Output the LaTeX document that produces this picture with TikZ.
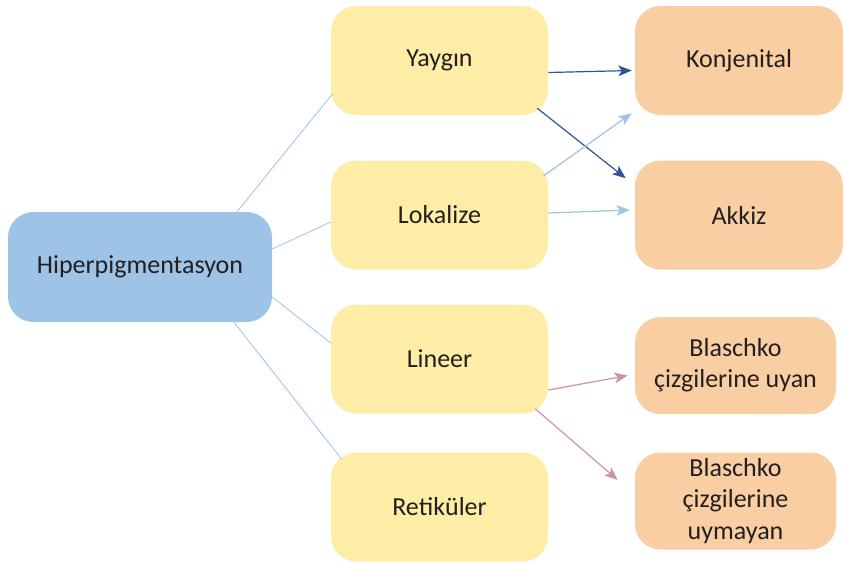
\documentclass[tikz,border=0pt]{standalone}
\usepackage{fontspec}
\setmainfont{Carlito}
\usepackage{tikz}
\usetikzlibrary{calc}
\usetikzlibrary{arrows.meta}
\usepackage{xcolor}

\definecolor{rootblue}{HTML}{9DC3E6}
\definecolor{boxyellow}{HTML}{FDEDA7}
\definecolor{boxorange}{HTML}{F9CEA3}
\definecolor{linkblue}{HTML}{9DC3E6}
\definecolor{darkblue}{HTML}{2F5597}
\definecolor{linkpink}{HTML}{C994A9}
\definecolor{textgray}{HTML}{231F20}

\tikzset{
  box/.style={rounded corners=19pt, inner sep=2pt, align=center, text=textgray,
    font=\fontsize{19.5}{23.5}\selectfont},
  rootbox/.style={box, fill=rootblue, minimum width=198pt, minimum height=82.5pt},
  midbox/.style={box, fill=boxyellow, minimum width=162.75pt, minimum height=81.75pt},
  leafbox/.style={box, fill=boxorange, minimum width=156pt, minimum height=81.75pt},
  smallleaf/.style={box, fill=boxorange, minimum width=150.75pt, minimum height=72.75pt},
  link/.style={draw=linkblue, line width=0.6pt},
  arr/.style={line width=0.9pt, -{Stealth[length=10pt,width=8pt,inset=2.5pt]}},
}

\begin{document}
\begin{tikzpicture}[x=0.75pt,y=-0.75pt]
\path[use as bounding box] (0,0) rectangle (843,562);

% Boxes
\node[rootbox] (hip) at (140,267) {Hiperpigmentasyon};
\node[midbox] (yay) at (439.5,60.5) {Yaygın};
\node[midbox] (lok) at (439.5,215) {Lokalize};
\node[midbox] (lin) at (439.5,359) {Lineer};
\node[midbox] (ret) at (439.5,507) {Retiküler};
\node[leafbox] (kon) at (739,60.5) {Konjenital};
\node[leafbox] (akk) at (739,215) {Akkiz};
\node[smallleaf] (bl1) at (735.5,365.5) {Blaschko\\çizgilerine uyan};
\node[smallleaf] (bl2) at (735.5,501) {Blaschko\\çizgilerine\\uymayan};

% Root links
\draw[link] ($(hip.north)+(97,0)$) -- ($(yay.west)+(2,33)$);
\draw[link] ($(hip.east)+(0,-18)$) -- ($(lok.west)+(0,7)$);
\draw[link] ($(hip.east)+(0,30)$) -- ($(lin.west)+(0,-16)$);
\draw[link] ($(hip.south)+(94,0)$) -- ($(ret.north west)+(11,7)$);

% Arrows
\draw[arr, darkblue] ($(yay.east)+(0,12)$) -- ($(kon.west)+(-3,10)$);
\draw[arr, darkblue] ($(yay.south east)+(-11,-7)$) -- ($(akk.north west)+(-9,18)$);
\draw[arr, linkblue] ($(lok.east)+(-5,-39)$) -- ($(kon.south west)+(-3,-2)$);
\draw[arr, linkblue] ($(lok.east)+(0,-2)$) -- ($(akk.west)+(-5,-5)$);
\draw[arr, linkpink] ($(lin.east)+(0,31)$) -- ($(bl1.west)+(-7,10)$);
\draw[arr, linkpink] ($(lin.south east)+(-13,-5)$) -- ($(bl2.west)+(-17,-21)$);

\end{tikzpicture}
\end{document}
